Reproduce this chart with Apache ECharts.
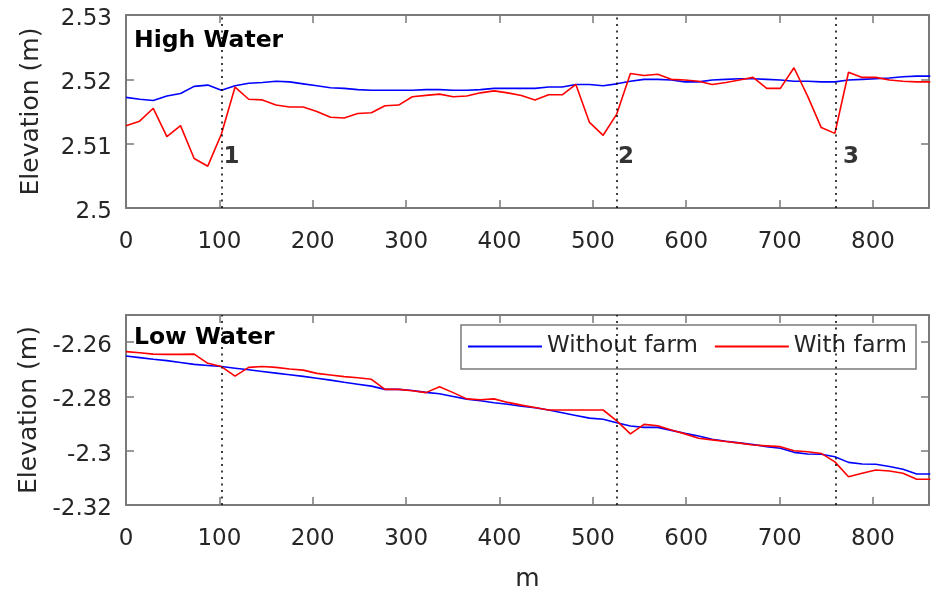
<!DOCTYPE html>
<html>
<head>
<meta charset="utf-8">
<title>Water surface elevation along the channel</title>
<script src="https://cdn.jsdelivr.net/npm/echarts@6/dist/echarts.min.js"></script>
<style>
  html, body { margin: 0; padding: 0; background: #fff; }
  #chart { width: 932px; height: 596px; }
</style>
</head>
<body>
<div id="chart"></div>
<script>
// Distance along the channel (m)
const distance = [0, 14.6, 29.2, 43.8, 58.4, 73, 87.6, 102.2, 116.8, 131.4, 146, 160.6, 175.2, 189.8,
  204.4, 219, 233.6, 248.2, 262.8, 277.4, 292, 306.6, 321.2, 335.8, 350.4, 365, 379.6, 394.2, 408.8,
  423.4, 438, 452.6, 467.2, 481.8, 496.4, 511, 525.6, 540.2, 554.8, 569.4, 584, 598.6, 613.2, 627.8,
  642.4, 657, 671.6, 686.2, 700.8, 715.4, 730, 744.6, 759.2, 773.8, 788.4, 803, 817.6, 832.2, 846.8, 861.4];

// High water elevation (m)
const highWithout = [2.5172, 2.5169, 2.5167, 2.5174, 2.5178, 2.5189, 2.5191, 2.5183, 2.5190, 2.5194,
  2.5195, 2.5197, 2.5196, 2.5193, 2.5190, 2.5187, 2.5186, 2.5184, 2.5183, 2.5183, 2.5183, 2.5183,
  2.5184, 2.5184, 2.5183, 2.5183, 2.5184, 2.5186, 2.5186, 2.5186, 2.5186, 2.5188, 2.5188, 2.5192,
  2.5192, 2.5190, 2.5193, 2.5197, 2.5200, 2.5200, 2.5199, 2.5196, 2.5196, 2.5199, 2.5200, 2.5201,
  2.5201, 2.5200, 2.5199, 2.5197, 2.5197, 2.5196, 2.5196, 2.5199, 2.5200, 2.5201, 2.5202, 2.5204,
  2.5205, 2.5205];
const highWith = [2.5128, 2.5135, 2.5155, 2.5111, 2.5128, 2.5077, 2.5065, 2.5115, 2.5188, 2.5169,
  2.5168, 2.5160, 2.5157, 2.5157, 2.5150, 2.5141, 2.5140, 2.5147, 2.5148, 2.5159, 2.5160, 2.5173,
  2.5175, 2.5177, 2.5173, 2.5174, 2.5179, 2.5182, 2.5179, 2.5175, 2.5168, 2.5176, 2.5176, 2.5192,
  2.5133, 2.5113, 2.5146, 2.5209, 2.5206, 2.5208, 2.5200, 2.5199, 2.5197, 2.5192, 2.5195, 2.5199,
  2.5203, 2.5186, 2.5186, 2.5218, 2.5174, 2.5125, 2.5116, 2.5211, 2.5203, 2.5203, 2.5199, 2.5197,
  2.5196, 2.5196];

// Low water elevation (m)
const lowWithout = [-2.2651, -2.2657, -2.2663, -2.2668, -2.2675, -2.2682, -2.2686, -2.2690, -2.2696,
  -2.2702, -2.2708, -2.2714, -2.2720, -2.2726, -2.2733, -2.2740, -2.2748, -2.2755, -2.2762, -2.2774,
  -2.2774, -2.2778, -2.2785, -2.2790, -2.2800, -2.2810, -2.2816, -2.2823, -2.2829, -2.2836, -2.2842,
  -2.2850, -2.2860, -2.2870, -2.2880, -2.2884, -2.2897, -2.2909, -2.2914, -2.2914, -2.2925, -2.2936,
  -2.2946, -2.2958, -2.2965, -2.2971, -2.2977, -2.2985, -2.2991, -2.3006, -2.3012, -2.3013, -2.3022,
  -2.3043, -2.3049, -2.3050, -2.3058, -2.3068, -2.3086, -2.3086];
const lowWith = [-2.2635, -2.2639, -2.2644, -2.2645, -2.2645, -2.2644, -2.2678, -2.2690, -2.2725,
  -2.2693, -2.2690, -2.2693, -2.2699, -2.2703, -2.2715, -2.2721, -2.2727, -2.2731, -2.2737, -2.2774,
  -2.2774, -2.2779, -2.2786, -2.2764, -2.2786, -2.2809, -2.2812, -2.2809, -2.2822, -2.2832, -2.2841,
  -2.2850, -2.2850, -2.2850, -2.2850, -2.2850, -2.2890, -2.2938, -2.2903, -2.2908, -2.2924, -2.2938,
  -2.2954, -2.2960, -2.2966, -2.2972, -2.2979, -2.2982, -2.2985, -2.3000, -2.3004, -2.3010, -2.3041,
  -2.3096, -2.3083, -2.3071, -2.3075, -2.3083, -2.3105, -2.3105];

// Farm sites marked along the channel
const siteDistance = [103, 526, 760];
const siteNames = ['1', '2', '3'];
const siteLabelX = [104.5, 527, 768];
const siteLabelY = 2.5079;

const seriesNames = ['Without farm', 'With farm'];
const panelTitles = ['High Water', 'Low Water'];

const FONT = 'DejaVu Sans';
const TEXT = '#262626';
const AXIS = '#7a7a7a';

const pairs = (xs, ys) => xs.map((x, i) => [x, ys[i]]);
const onStep = (v, step) => Math.abs(Math.round(v / step) * step - v) < 1e-9;

function xAxes(grid, withName) {
  const base = {
    gridIndex: grid, type: 'value', min: 0, max: 860, interval: 100,
    splitLine: { show: false },
    axisLine: { show: true, onZero: false, lineStyle: { color: AXIS, width: 2 } },
    axisTick: { show: true, inside: true, length: 8, lineStyle: { color: AXIS, width: 1.5 } }
  };
  return [
    Object.assign({}, base, {
      position: 'bottom',
      name: withName ? 'm' : '',
      nameLocation: 'middle', nameGap: 62,
      nameTextStyle: { fontFamily: FONT, fontSize: 25, color: TEXT },
      axisLabel: {
        fontFamily: FONT, fontSize: 23, color: TEXT, margin: 23,
        formatter: v => (onStep(v, 100) ? String(v) : '')
      }
    }),
    Object.assign({}, base, { position: 'top', axisLabel: { show: false } })
  ];
}

function yAxes(grid, min, max, step) {
  const base = {
    gridIndex: grid, type: 'value', min: min, max: max, interval: step,
    splitLine: { show: false },
    axisLine: { show: true, onZero: false, lineStyle: { color: AXIS, width: 2 } },
    axisTick: { show: true, inside: true, length: 8, lineStyle: { color: AXIS, width: 1.5 } }
  };
  return [
    Object.assign({}, base, {
      position: 'left',
      name: 'Elevation (m)', nameLocation: 'middle', nameGap: 82,
      nameTextStyle: { fontFamily: FONT, fontSize: 25, color: TEXT },
      axisLabel: {
        fontFamily: FONT, fontSize: 23, color: TEXT, margin: 14,
        formatter: v => (onStep(v - min, step) ? '{t|' + String(+v.toFixed(4)) + '}' : ''),
        rich: {
          t: { fontFamily: FONT, fontSize: 23, color: TEXT, padding: [8, 0, 0, 0] }
        }
      }
    }),
    Object.assign({}, base, { position: 'right', axisLabel: { show: false } })
  ];
}

const siteLines = {
  silent: true,
  symbol: 'none',
  label: { show: false },
  lineStyle: { color: '#000', type: [2, 4.5], width: 1.5 },
  data: siteDistance.map(d => ({ xAxis: d }))
};

function lineSeries(name, color, data, axisIdx, withSites) {
  const s = {
    name: name, type: 'line', xAxisIndex: axisIdx, yAxisIndex: axisIdx,
    data: data, symbol: 'none', showSymbol: false, smooth: false,
    lineStyle: { color: color, width: 1.6 }, itemStyle: { color: color },
    emphasis: { disabled: true }, animation: false
  };
  if (withSites) s.markLine = siteLines;
  return s;
}

const chart = echarts.init(document.getElementById('chart'), null, { renderer: 'canvas' });
chart.setOption({
  backgroundColor: '#fff',
  animation: false,
  title: [
    { text: panelTitles[0], left: 134, top: 29, padding: 0,
      textStyle: { fontFamily: FONT, fontSize: 23.5, fontWeight: 'bold', color: '#000' } },
    { text: panelTitles[1], left: 134, top: 326, padding: 0,
      textStyle: { fontFamily: FONT, fontSize: 23.5, fontWeight: 'bold', color: '#000' } }
  ],
  grid: [
    { left: 126, right: 3, top: 15, height: 193, containLabel: false },
    { left: 126, right: 3, top: 315, height: 190, containLabel: false }
  ],
  legend: {
    data: seriesNames,
    left: 461, top: 325,
    orient: 'horizontal',
    icon: 'rect', itemWidth: 74, itemHeight: 2, itemGap: 17,
    padding: [10, 9, 11, 7],
    borderColor: AXIS, borderWidth: 1.5, borderRadius: 0,
    backgroundColor: '#fff',
    textStyle: { fontFamily: FONT, fontSize: 23, color: TEXT },
    selectedMode: false
  },
  xAxis: [].concat(xAxes(0, false), xAxes(1, true)),
  yAxis: [].concat(yAxes(0, 2.5, 2.53, 0.01), yAxes(1, -2.32, -2.25, 0.02)),
  series: [
    lineSeries(seriesNames[0], '#0000ff', pairs(distance, highWithout), 0, true),
    lineSeries(seriesNames[1], '#ff0000', pairs(distance, highWith), 0, false),
    lineSeries(seriesNames[0], '#0000ff', pairs(distance, lowWithout), 2, true),
    lineSeries(seriesNames[1], '#ff0000', pairs(distance, lowWith), 2, false),
    {
      name: 'sites', type: 'scatter', xAxisIndex: 0, yAxisIndex: 0,
      symbolSize: 0, silent: true,
      data: siteLabelX.map((x, i) => [x, siteLabelY, siteNames[i]]),
      label: {
        show: true, position: 'right', distance: 0,
        formatter: p => p.value[2],
        fontFamily: FONT, fontSize: 23, fontWeight: 'bold', color: '#000'
      }
    }
  ]
});
</script>
</body>
</html>
